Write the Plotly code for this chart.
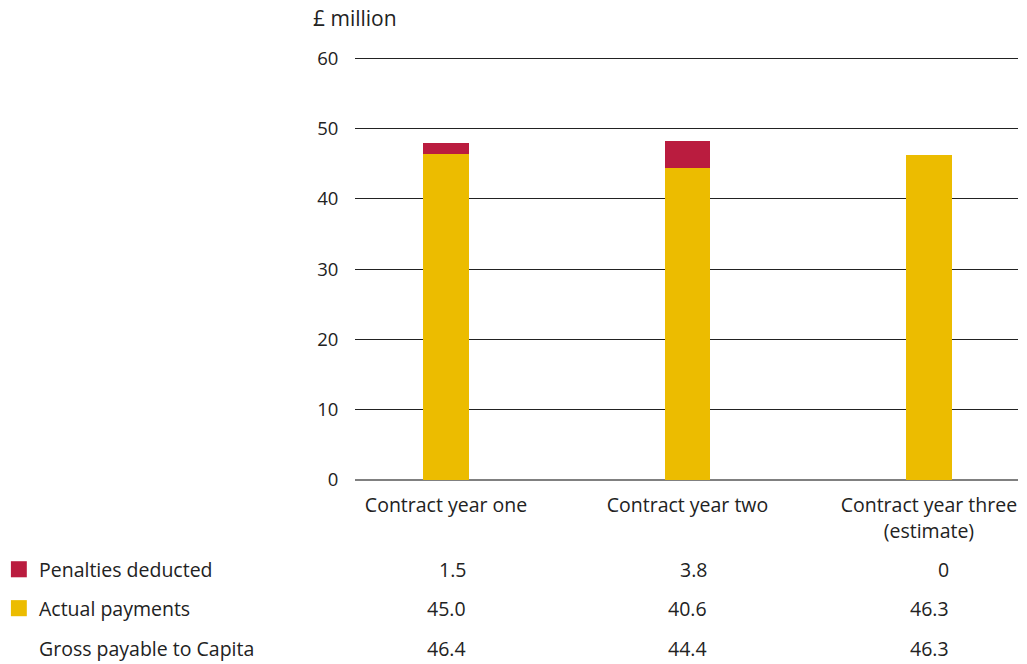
import plotly.graph_objects as go

categories = ["Contract year one", "Contract year two", "Contract year three<br>(estimate)"]
penalties = [1.5, 3.8, 0]
actual = [45.0, 40.6, 46.3]
gross = [46.4, 44.4, 46.3]
y_ticks = [0, 10, 20, 30, 40, 50, 60]

RED = "#BA1C3F"
YELLOW = "#ECBC00"
TXT = "#222222"
FONT = "Open Sans"
FS = 19.5
BAR_W = 0.19

xs = list(range(len(categories)))

fig = go.Figure()
fig.add_bar(x=xs, y=gross, marker_color=YELLOW, width=BAR_W, name="Actual payments",
            marker_line_width=0)
fig.add_bar(x=xs, y=penalties, marker_color=RED, width=BAR_W, name="Penalties deducted",
            marker_line_width=0)

fig.update_layout(
    barmode="stack",
    width=1027, height=664,
    margin=dict(l=355, r=9, t=57, b=184),
    paper_bgcolor="white", plot_bgcolor="white",
    showlegend=False,
    font=dict(family=FONT, size=FS, color=TXT),
)
fig.update_xaxes(
    range=[-0.377, 2.369], tickvals=xs, ticktext=categories,
    showgrid=False, zeroline=False, showline=False,
    tickfont=dict(size=FS, color=TXT), ticks="outside", ticklen=8, tickcolor="rgba(0,0,0,0)",
)
fig.update_yaxes(
    range=[0, 60.2], tickvals=y_ticks, showgrid=True, gridcolor="#222222", gridwidth=1,
    zeroline=True, zerolinecolor="#808080", zerolinewidth=2, showline=False,
    tickfont=dict(size=18.5, color=TXT), ticks="outside", ticklen=12, tickcolor="rgba(0,0,0,0)",
)

# y-axis title
fig.add_annotation(text="£ million", xref="paper", yref="paper", x=-0.066, y=1.092,
                   xanchor="left", yanchor="middle", showarrow=False,
                   font=dict(size=21, color=TXT, family=FONT))

# table below
rows = [("Penalties deducted", penalties, RED),
        ("Actual payments", actual, YELLOW),
        ("Gross payable to Capita", gross, None)]
row_y = [-0.211, -0.303, -0.398]
for (label, vals, col), ry in zip(rows, row_y):
    fig.add_annotation(text=label, xref="paper", yref="paper", x=-0.4796, y=ry,
                       xanchor="left", yanchor="middle", showarrow=False,
                       font=dict(size=FS, color=TXT, family=FONT))
    if col:
        fig.add_shape(type="rect", xref="paper", yref="paper",
                      x0=-0.519, x1=-0.495, y0=ry - 0.019, y1=ry + 0.019,
                      fillcolor=col, line_width=0)
    for i, v in enumerate(vals):
        t = "0" if v == 0 else f"{v:.1f}"
        fig.add_annotation(text=t, xref="x", yref="paper", x=xs[i] + BAR_W / 2, y=ry,
                           xanchor="right", yanchor="middle", showarrow=False, xshift=-1,
                           font=dict(size=FS, color=TXT, family=FONT))

fig.write_html("out.html")
